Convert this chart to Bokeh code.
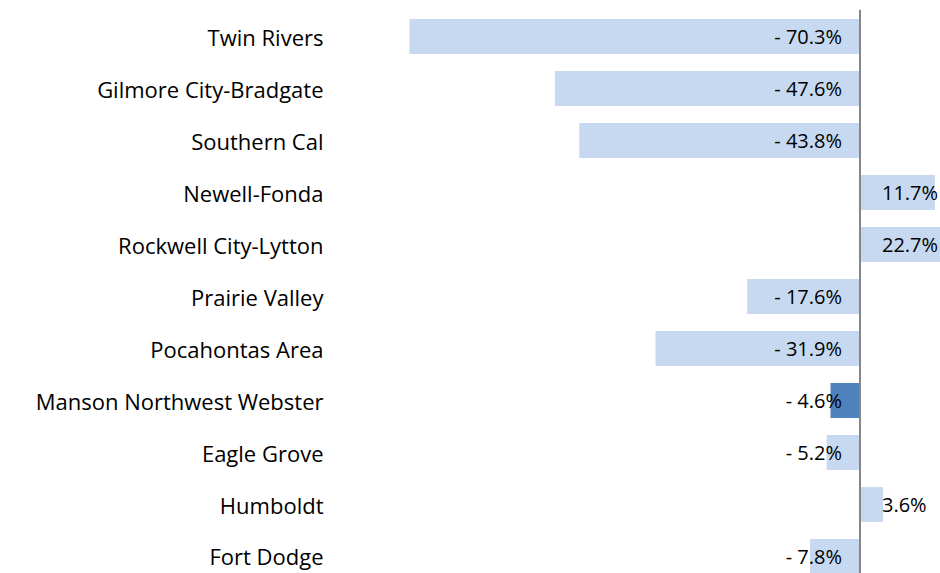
from bokeh.plotting import figure
from bokeh.models import ColumnDataSource, Span, FixedTicker, Range1d
from bokeh.core.properties import value
from bokeh.embed import file_html
from bokeh.resources import INLINE

districts = ["Twin Rivers", "Gilmore City-Bradgate", "Southern Cal", "Newell-Fonda",
             "Rockwell City-Lytton", "Prairie Valley", "Pocahontas Area",
             "Manson Northwest Webster", "Eagle Grove", "Humboldt", "Fort Dodge"]
change = [-70.3, -47.6, -43.8, 11.7, 22.7, -17.6, -31.9, -4.6, -5.2, 3.6, -7.8]
highlight = "Manson Northwest Webster"

n = len(districts)
ypos = [n - 1 - i for i in range(n)]
colors = ["#4f81bd" if d == highlight else "#c6d9f1" for d in districts]
labels = [("- %.1f%%" % abs(v)) if v < 0 else ("%.1f%%" % v) for v in change]

src = ColumnDataSource(dict(y=ypos, v=change, c=colors, lab=labels))
neg = ColumnDataSource(dict(y=[y for y, v in zip(ypos, change) if v < 0],
                            lab=[l for l, v in zip(labels, change) if v < 0],
                            x=[0 for v in change if v < 0]))
pos = ColumnDataSource(dict(y=[y for y, v in zip(ypos, change) if v >= 0],
                            lab=[l for l, v in zip(labels, change) if v >= 0],
                            x=[0 for v in change if v >= 0]))

FONT = "Open Sans"

p = figure(width=940, height=573, output_backend="svg", toolbar_location=None,
           x_range=Range1d(-81.05, 12.56), y_range=Range1d(-0.327, n - 1 + 0.52),
           min_border_left=340, min_border_right=0, min_border_top=9, min_border_bottom=0)
p.outline_line_color = None
p.grid.visible = False
p.xaxis.visible = False

p.hbar(y="y", right="v", left=0, height=0.67, fill_color="c", line_color=None, source=src)

p.add_layout(Span(location=0, dimension="height", line_color="#868686", line_width=2))

p.text(x="x", y="y", text="lab", source=neg, text_align="right", text_baseline="middle",
       x_offset=-18, text_font=value(FONT), text_font_size="20px", text_color="#000000")
p.text(x="x", y="y", text="lab", source=pos, text_align="left", text_baseline="middle",
       x_offset=22, text_font=value(FONT), text_font_size="20px", text_color="#000000")

ya = p.yaxis[0]
ya.ticker = FixedTicker(ticks=ypos)
ya.major_label_overrides = {y: d for y, d in zip(ypos, districts)}
ya.axis_line_color = None
ya.major_tick_line_color = None
ya.minor_tick_line_color = None
ya.major_tick_out = 0
ya.major_tick_in = 0
ya.major_label_standoff = 17
ya.major_label_text_font = FONT
ya.major_label_text_font_size = "22px"
ya.major_label_text_color = "#000000"

open("out.html", "w").write(file_html(p, INLINE))
